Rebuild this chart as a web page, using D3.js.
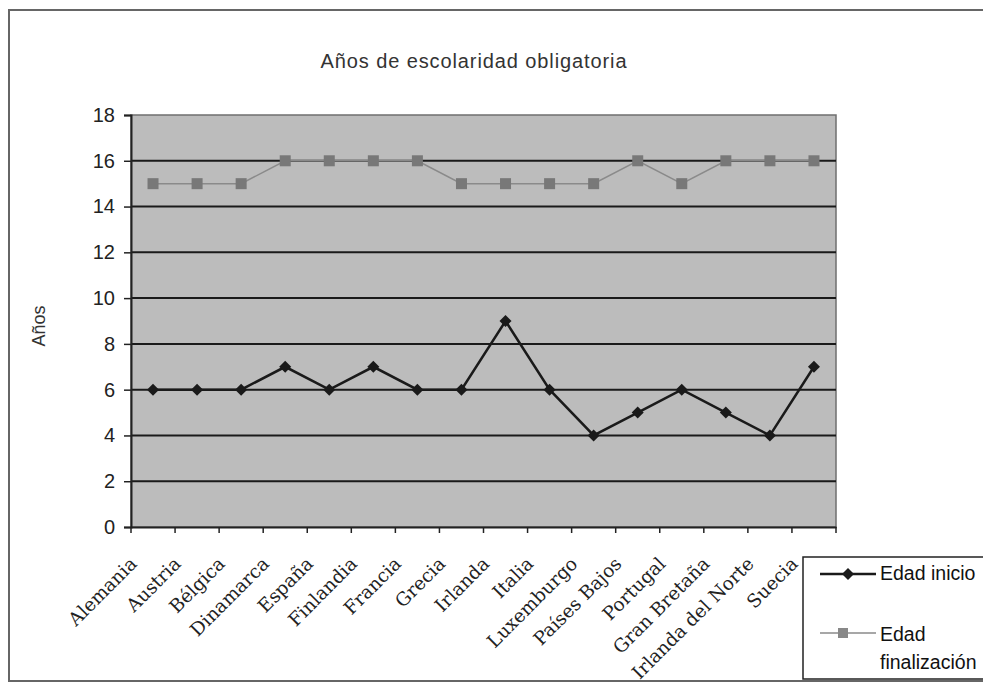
<!DOCTYPE html>
<html>
<head>
<meta charset="utf-8">
<script src="https://cdn.jsdelivr.net/npm/d3@7"></script>
<style>
  html, body { margin: 0; padding: 0; background: #fff; overflow: hidden; }
  svg { display: block; }
</style>
</head>
<body>
<svg id="chart" width="983" height="684"></svg>
<script>
const categories = ["Alemania","Austria","Bélgica","Dinamarca","España","Finlandia","Francia","Grecia","Irlanda","Italia","Luxemburgo","Países Bajos","Portugal","Gran Bretaña","Irlanda del Norte","Suecia"];
const edadInicio = [6,6,6,7,6,7,6,6,9,6,4,5,6,5,4,7];
const edadFinalizacion = [15,15,15,16,16,16,16,15,15,15,15,16,15,16,16,16];
const yTicks = [0,2,4,6,8,10,12,14,16,18];
const seriesNames = ["Edad inicio", "Edad finalización"];

const svg = d3.select("#chart");
const plot = {left: 131, right: 836, top: 115, bottom: 527};
const sans = "Liberation Sans, Arial, sans-serif";

// outer frame
svg.append("path")
  .attr("d", `M990,10 L9,10 L9,681 L990,681`)
  .attr("fill", "none").attr("stroke", "#666").attr("stroke-width", 2);

const x = d3.scaleBand().domain(categories).range([plot.left, plot.right]);
const y = d3.scaleLinear().domain([0, 18]).range([plot.bottom, plot.top]);

// plot background
svg.append("rect")
  .attr("x", plot.left).attr("y", plot.top)
  .attr("width", plot.right - plot.left).attr("height", plot.bottom - plot.top)
  .attr("fill", "#bcbcbc").attr("stroke", "#6f6f6f").attr("stroke-width", 1.5);

// gridlines
svg.append("g").selectAll("line").data(yTicks.filter(d => d > 0 && d < 18)).join("line")
  .attr("x1", plot.left).attr("x2", plot.right)
  .attr("y1", d => y(d)).attr("y2", d => y(d))
  .attr("stroke", "#1a1a1a").attr("stroke-width", 2);

// y axis
const yAxis = svg.append("g").attr("transform", `translate(${plot.left},0)`)
  .call(d3.axisLeft(y).tickValues(yTicks).tickSize(7).tickPadding(9));
yAxis.select(".domain").attr("stroke", "#222").attr("stroke-width", 2);
yAxis.selectAll(".tick line").attr("stroke", "#222").attr("stroke-width", 1.5);
yAxis.selectAll(".tick text").attr("font-family", sans)
  .attr("font-size", 20).attr("fill", "#222");

// x axis
const xAxis = svg.append("g").attr("transform", `translate(0,${plot.bottom})`)
  .call(d3.axisBottom(x).tickSize(0).tickFormat(""));
xAxis.select(".domain").attr("stroke", "#222").attr("stroke-width", 2);
const bounds = categories.map(c => x(c)).concat([plot.right]);
svg.append("g").selectAll("line").data(bounds).join("line")
  .attr("x1", d => d).attr("x2", d => d)
  .attr("y1", plot.bottom).attr("y2", plot.bottom + 6)
  .attr("stroke", "#222").attr("stroke-width", 1.5);

svg.append("g").selectAll("text").data(categories).join("text")
  .attr("transform", d => `translate(${x(d) + x.bandwidth()/2 - 15},${plot.bottom + 38}) rotate(-45)`)
  .attr("text-anchor", "end")
  .attr("font-family", "DejaVu Serif, serif")
  .attr("font-size", 18.5).attr("fill", "#222")
  .text(d => d);

// title
svg.append("text").attr("x", 474).attr("y", 68).attr("text-anchor", "middle")
  .attr("font-family", sans).attr("font-size", 20).attr("letter-spacing", 0.9).attr("fill", "#333")
  .text("Años de escolaridad obligatoria");

// y label
svg.append("text").attr("transform", "translate(45,326) rotate(-90)").attr("text-anchor", "middle")
  .attr("font-family", sans).attr("font-size", 18).attr("fill", "#333")
  .text("Años");

const cx = d => x(d) + x.bandwidth()/2;
const line = d3.line().x(d => cx(d.c)).y(d => y(d.v));

// series 2: finalizacion (gray)
const s2 = categories.map((c, i) => ({c, v: edadFinalizacion[i]}));
svg.append("path").datum(s2).attr("d", line).attr("fill", "none")
  .attr("stroke", "#8a8a8a").attr("stroke-width", 1.5);
svg.append("g").selectAll("rect").data(s2).join("rect")
  .attr("x", d => cx(d.c) - 5.5).attr("y", d => y(d.v) - 5.5)
  .attr("width", 11).attr("height", 11).attr("fill", "#787878");

// series 1: inicio (black)
const s1 = categories.map((c, i) => ({c, v: edadInicio[i]}));
svg.append("path").datum(s1).attr("d", line).attr("fill", "none")
  .attr("stroke", "#1a1a1a").attr("stroke-width", 2.5);
const diamond = d3.symbol().type(d3.symbolDiamond2).size(92);
svg.append("g").selectAll("path").data(s1).join("path")
  .attr("transform", d => `translate(${cx(d.c)},${y(d.v)})`)
  .attr("d", diamond).attr("fill", "#1a1a1a");

// legend
const lg = svg.append("g");
lg.append("rect").attr("x", 803).attr("y", 557).attr("width", 200).attr("height", 122)
  .attr("fill", "#fff").attr("stroke", "#222").attr("stroke-width", 1.5);
lg.append("line").attr("x1", 820).attr("x2", 876).attr("y1", 574).attr("y2", 574)
  .attr("stroke", "#1a1a1a").attr("stroke-width", 2.5);
lg.append("path").attr("transform", "translate(848,574)").attr("d", diamond).attr("fill", "#1a1a1a");
lg.append("text").attr("x", 880).attr("y", 580).attr("font-family", sans)
  .attr("font-size", 19.5).attr("fill", "#111").text(seriesNames[0]);
lg.append("line").attr("x1", 820).attr("x2", 876).attr("y1", 633).attr("y2", 633)
  .attr("stroke", "#8a8a8a").attr("stroke-width", 1.5);
lg.append("rect").attr("x", 838).attr("y", 628).attr("width", 10).attr("height", 10).attr("fill", "#888");
const t2 = lg.append("text").attr("font-family", sans)
  .attr("font-size", 19.5).attr("fill", "#111");
const parts = seriesNames[1].split(" ");
t2.append("tspan").attr("x", 880).attr("y", 641).text(parts[0]);
t2.append("tspan").attr("x", 880).attr("y", 669).text(parts[1]);
</script>
</body>
</html>
